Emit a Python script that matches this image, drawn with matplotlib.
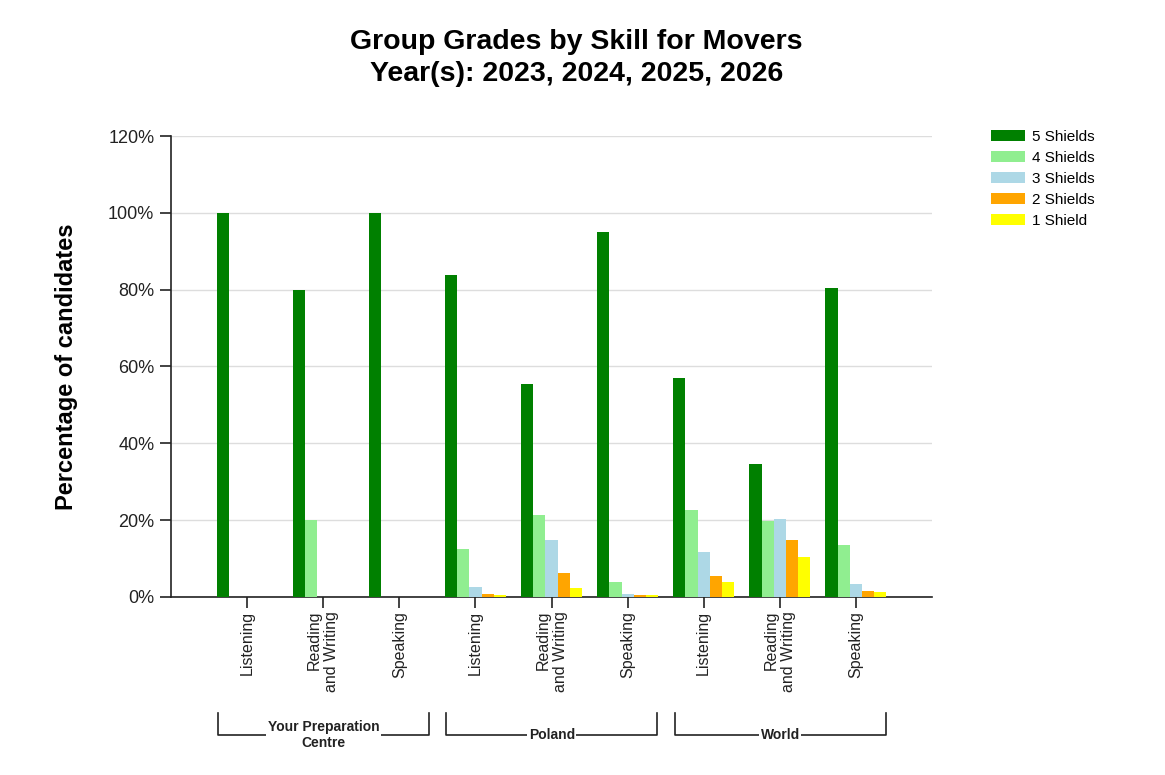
import numpy as np
import matplotlib
matplotlib.use("Agg")
import matplotlib.pyplot as plt
from matplotlib.patches import Patch

plt.rcParams['font.family'] = ['Liberation Sans', 'DejaVu Sans']

# data
groups = ["Your Preparation\nCentre", "Poland", "World"]
skills = ["Listening", "Reading\nand Writing", "Speaking"]
grades = ["5 Shields", "4 Shields", "3 Shields", "2 Shields", "1 Shield"]
colors = ["#008000", "#90EE90", "#ADD8E6", "#FFA500", "#FFFF00"]

shields_5 = [100, 80, 100, 83.9, 55.4, 94.9, 57.0, 34.6, 80.4]
shields_4 = [0, 20, 0, 12.5, 21.4, 3.9, 22.6, 19.9, 13.6]
shields_3 = [0, 0, 0, 2.7, 14.8, 0.8, 11.8, 20.2, 3.5]
shields_2 = [0, 0, 0, 0.8, 6.3, 0.4, 5.5, 14.8, 1.6]
shields_1 = [0, 0, 0, 0.5, 2.4, 0.4, 3.9, 10.5, 1.2]
series = [shields_5, shields_4, shields_3, shields_2, shields_1]

yticks = [0, 20, 40, 60, 80, 100, 120]

fig = plt.figure(figsize=(11.65, 7.75), dpi=100)
ax = fig.add_axes([0.1468, 0.2297, 0.6532, 0.5948])

x = np.arange(1, len(skills) * len(groups) + 1)
w = 0.16
for i, (vals, c, lab) in enumerate(zip(series, colors, grades)):
    ax.bar(x + (i - 2) * w, vals, width=w, color=c, linewidth=0, label=lab, zorder=3)

ax.set_xlim(0, 10)
ax.set_ylim(0, 120)
ax.set_yticks(yticks)
ax.set_yticklabels([f"{v}%" for v in yticks], fontsize=13, color="#222222")
ax.set_xticks(x)
ax.set_xticklabels(skills * len(groups), rotation=90, fontsize=11.5,
                   color="#222222", multialignment="right")
ax.tick_params(axis="both", direction="out", length=8, width=1.2, color="#222222")
ax.tick_params(axis="y", pad=4)
ax.tick_params(axis="x", pad=2)
ax.grid(axis="y", color="#dddddd", linewidth=1, zorder=0)
for s in ["top", "right"]:
    ax.spines[s].set_visible(False)
for s in ["left", "bottom"]:
    ax.spines[s].set_color("#222222")
    ax.spines[s].set_linewidth(1.2)

ax.set_ylabel("Percentage of candidates", fontsize=17, fontweight="bold", labelpad=22)

# group brackets under the tick labels
tr = ax.get_xaxis_transform()
y_top, y_bot = -0.2516, -0.2993
for g, name in enumerate(groups):
    left = g * 3 + 1 - 0.38
    right = g * 3 + 3 + 0.39
    ax.plot([left, left, right, right], [y_top, y_bot, y_bot, y_top], color="#222222",
            linewidth=1.2, transform=tr, clip_on=False)
    ax.text((left + right) / 2, y_bot, name, transform=tr, ha="center", va="center",
            fontsize=10, fontweight="bold", color="#222222", linespacing=1.15,
            bbox=dict(facecolor="white", edgecolor="none", pad=1))

fig.text(0.495, 0.925, "Group Grades by Skill for Movers\nYear(s): 2023, 2024, 2025, 2026",
         ha="center", va="center", fontsize=20.5, fontweight="bold", linespacing=1.3)

handles = [Patch(facecolor=c, edgecolor="none") for c in colors]
fig.legend(handles, grades, loc="upper left", bbox_to_anchor=(0.8455, 0.84), frameon=False,
           fontsize=11, handlelength=2.2, handleheight=0.75, labelspacing=0.45,
           handletextpad=0.45, borderaxespad=0)

fig.savefig("out.png", dpi=100)
